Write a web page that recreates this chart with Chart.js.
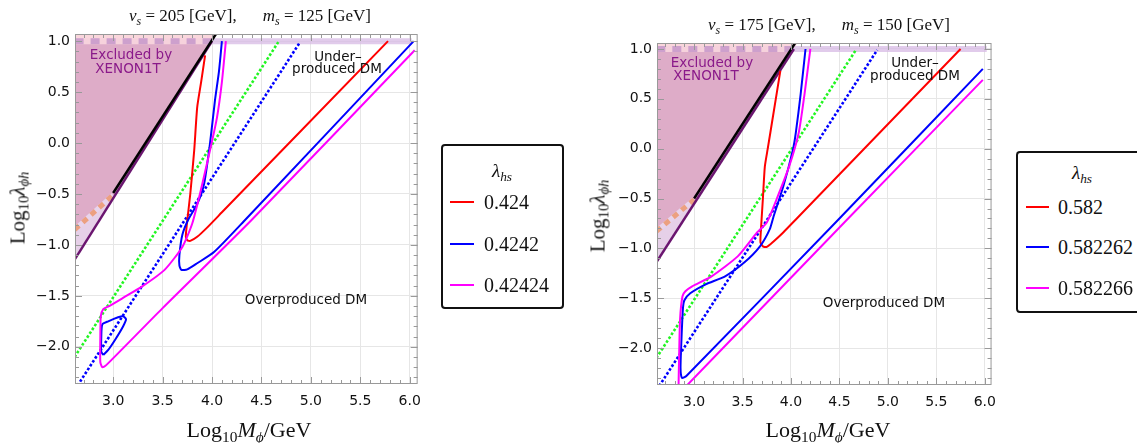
<!DOCTYPE html>
<html>
<head>
<meta charset="utf-8">
<script src="https://cdn.jsdelivr.net/npm/chart.js"></script>
<style>
  body { margin: 0; background: #fff; }
  #page { position: relative; width: 1137px; height: 443px; overflow: hidden; }
  canvas { position: absolute; top: 0; }
  .t { position: absolute; white-space: nowrap; transform: translate(-50%, -50%); }
  .serif { font-family: "Liberation Serif", "DejaVu Serif", serif; color: #111; }
  .note { font-family: "DejaVu Sans", sans-serif; font-size: 13.5px; color: #111; }
  .purple { color: #8a1a8a; }
  .ytitle { transform: translate(-50%, -50%) rotate(-90deg); }
  .legend { position: absolute; border: 2px solid #111; border-radius: 4px; box-sizing: border-box; }
  .swatch { position: absolute; height: 2px; }
  .lab { position: absolute; font-family: "Liberation Serif", serif; font-size: 20px; color: #111; transform: translateY(-50%); }
  sub { font-size: 0.7em; vertical-align: -0.3em; line-height: 0; }
</style>
</head>
<body>
<div id="page">
  <canvas id="left" width="430" height="443" style="left:0"></canvas>
  <canvas id="right" width="425" height="443" style="left:580px"></canvas>

  <div class="t serif" style="left:250px; top:16px; font-size:17px"><i>v</i><sub><i>s</i></sub> = 205 [GeV],<span style="display:inline-block;width:26px"></span><i>m</i><sub><i>s</i></sub> = 125 [GeV]</div>
  <div class="t serif" style="left:829px; top:25px; font-size:17px"><i>v</i><sub><i>s</i></sub> = 175 [GeV],<span style="display:inline-block;width:26px"></span><i>m</i><sub><i>s</i></sub> = 150 [GeV]</div>

  <div class="t serif" style="left:249px; top:430px; font-size:22px">Log<sub>10</sub><i>M</i><sub><i>ϕ</i></sub>/GeV</div>
  <div class="t serif" style="left:828px; top:430px; font-size:22px">Log<sub>10</sub><i>M</i><sub><i>ϕ</i></sub>/GeV</div>
  <div class="t serif ytitle" style="left:18px; top:208px; font-size:21px">Log<sub>10</sub><i>λ</i><sub><i>ϕh</i></sub></div>
  <div class="t serif ytitle" style="left:598px; top:216px; font-size:21px">Log<sub>10</sub><i>λ</i><sub><i>ϕh</i></sub></div>

  <div class="t note purple" style="left:131px; top:54px">Excluded by</div>
  <div class="t note purple" style="left:128px; top:68px">XENON1T</div>
  <div class="t note" style="left:338px; top:56px">Under–</div>
  <div class="t note" style="left:337px; top:68px">produced DM</div>
  <div class="t note" style="left:306px; top:299px">Overproduced DM</div>

  <div class="t note purple" style="left:712px; top:62px">Excluded by</div>
  <div class="t note purple" style="left:706px; top:75px">XENON1T</div>
  <div class="t note" style="left:915px; top:62px">Under–</div>
  <div class="t note" style="left:915px; top:75px">produced DM</div>
  <div class="t note" style="left:884px; top:302px">Overproduced DM</div>

  <div id="legL"></div>
  <div id="legR"></div>
</div>

<script>
// ---- ticks ----
const xTicks = [3.0, 3.5, 4.0, 4.5, 5.0, 5.5, 6.0];
const yTicks = [-2.0, -1.5, -1.0, -0.5, 0.0, 0.5, 1.0];

// ---- legend ----
const lambdaL = ['0.424', '0.4242', '0.42424'];
const lambdaR = ['0.582', '0.582262', '0.582266'];
const colors = ['#ff0000', '#0000ff', '#ff00ff'];

// ---- left panel: v_s = 205, m_s = 125 ----
const exclFillL = [[2.61, 1.0], [4.0, 1.0], [3.0, -0.53], [2.61, -0.85]];
const exclLowL = [[2.61, -0.85], [3.0, -0.53], [2.61, -1.145]];
const exclTopL = [[2.61, 1.0], [4.0, 1.0], [4.05, 1.08], [2.61, 1.08]];
const xenonL = [[2.61, -1.145], [4.0, 1.0]];
const blackL = [[3.0, -0.49], [4.06, 1.1]];
const orangeL = [[2.61, -0.85], [3.0, -0.51]];
const greenL = [[2.61, -2.1], [4.67, 0.99]];
const blueDotL = [[2.64, -2.38], [4.89, 0.99]];
const redL = [[3.93, 0.86], [3.89, 0.6], [3.85, 0.35], [3.82, -0.07], [3.78, -0.5], [3.745, -0.8],
  [3.735, -0.92], [3.75, -0.955], [3.78, -0.96], [3.85, -0.92], [3.95, -0.83], [4.1, -0.68], [5.78, 1.0]];
const blueL = [[4.1, 1.0], [4.07, 0.7], [4.03, 0.42], [3.98, 0.0], [3.92, -0.4], [3.85, -0.6], [3.76, -0.75],
  [3.7, -0.9], [3.67, -1.1], [3.67, -1.2], [3.69, -1.245], [3.75, -1.24], [3.85, -1.18], [4.02, -1.07],
  [4.32, -0.77], [6.04, 1.0]];
const blueLoopL = [[2.9, -2.08], [2.88, -2.05], [2.88, -1.9], [2.89, -1.78], [2.95, -1.75], [3.05, -1.71],
  [3.1, -1.7], [3.13, -1.73], [3.1, -1.8], [3.02, -1.93], [2.95, -2.03], [2.9, -2.08]];
const magL = [[4.14, 1.0], [4.1, 0.6], [4.05, 0.25], [3.98, -0.07], [3.88, -0.49], [3.8, -0.79], [3.7, -1.02],
  [3.52, -1.245], [3.29, -1.41], [3.1, -1.52], [2.96, -1.6], [2.9, -1.63], [2.875, -1.7], [2.87, -1.9],
  [2.87, -2.15], [2.89, -2.2], [2.93, -2.18], [3.5, -1.62], [4.4, -0.755], [6.05, 0.91]];

// ---- right panel: v_s = 175, m_s = 150 ----
const exclFillR = [[2.61, 1.0], [4.03, 1.0], [3.0, -0.54], [2.61, -0.83]];
const exclLowR = [[2.61, -0.83], [3.0, -0.54], [2.61, -1.14]];
const exclTopR = [[2.61, 1.0], [4.03, 1.0], [4.08, 1.08], [2.61, 1.08]];
const xenonR = [[2.61, -1.14], [4.03, 1.0]];
const blackR = [[3.0, -0.5], [4.07, 1.1]];
const orangeR = [[2.61, -0.83], [3.0, -0.51]];
const greenR = [[2.61, -2.1], [4.67, 0.99]];
const blueDotR = [[2.64, -2.38], [4.89, 0.99]];
const redR = [[3.89, 0.78], [3.81, 0.3], [3.76, 0.0], [3.73, -0.18], [3.71, -0.5], [3.69, -0.81],
  [3.685, -0.94], [3.71, -0.98], [3.75, -0.985], [3.82, -0.93], [3.92, -0.84], [4.05, -0.71], [5.75, 1.0]];
const blueR = [[4.15, 1.0], [4.1, 0.55], [4.05, 0.16], [4.02, -0.01], [3.92, -0.38], [3.82, -0.68],
  [3.78, -0.81], [3.68, -0.98], [3.52, -1.14], [3.32, -1.28], [3.12, -1.36], [2.96, -1.45], [2.9, -1.52],
  [2.885, -1.6], [2.87, -1.9], [2.86, -2.2], [2.875, -2.3], [2.92, -2.28], [4.48, -0.72], [5.98, 0.8]];
const magR = [[4.2, 1.0], [4.14, 0.55], [4.08, 0.16], [3.98, -0.18], [3.85, -0.51], [3.75, -0.74],
  [3.65, -0.84], [3.45, -1.08], [3.18, -1.28], [2.98, -1.38], [2.91, -1.43], [2.88, -1.48], [2.855, -1.71],
  [2.845, -2.1], [2.84, -2.37], [2.845, -2.42], [2.87, -2.43], [2.9, -2.4], [2.93, -2.37],
  [4.58, -0.71], [5.98, 0.69]];
const topBand = [[4.0, 1.0], [6.02, 1.0]];
const topDash = [[2.61, 1.0], [4.0, 1.0]];

function pts(arr) { return arr.map(([x, y]) => ({ x, y })); }

function line(arr, color, width, dash, tension) {
  return { data: pts(arr), borderColor: color, borderWidth: width, borderDash: dash || [],
    pointRadius: 0, fill: false, tension: tension || 0, borderCapStyle: 'butt' };
}
function area(arr, color) {
  return { data: pts(arr), backgroundColor: color, borderColor: 'transparent', borderWidth: 0,
    pointRadius: 0, fill: 'shape', tension: 0 };
}

// frame with inner major/minor ticks, Mathematica style
const framePlugin = {
  id: 'frame',
  afterDatasetsDraw(chart) {
    const { ctx, chartArea: a, scales: { x, y } } = chart;
    ctx.save();
    ctx.strokeStyle = '#999';
    ctx.lineWidth = 1;
    ctx.strokeRect(a.left + 0.5, a.top + 0.5, a.right - a.left - 1, a.bottom - a.top - 1);
    ctx.beginPath();
    for (let i = Math.ceil(x.min * 10); i <= Math.floor(x.max * 10); i++) {
      const len = i % 5 === 0 ? 7 : 4;
      const px = Math.round(x.getPixelForValue(i / 10)) + 0.5;
      ctx.moveTo(px, a.bottom); ctx.lineTo(px, a.bottom - len);
      ctx.moveTo(px, a.top); ctx.lineTo(px, a.top + len);
    }
    for (let i = Math.ceil(y.min * 10); i <= Math.floor(y.max * 10); i++) {
      const len = i % 5 === 0 ? 7 : 4;
      const py = Math.round(y.getPixelForValue(i / 10)) + 0.5;
      ctx.moveTo(a.left, py); ctx.lineTo(a.left + len, py);
      ctx.moveTo(a.right, py); ctx.lineTo(a.right - len, py);
    }
    ctx.stroke();
    ctx.restore();
  }
};

function fmt(v) { return (v < 0 ? '\u2212' : '') + Math.abs(v).toFixed(1); }

function makeChart(id, g, sets) {
  // sets listed bottom -> top; Chart.js draws index 0 on top
  new Chart(document.getElementById(id), {
    type: 'line',
    data: { datasets: sets.slice().reverse() },
    plugins: [framePlugin],
    options: {
      responsive: false,
      animation: false,
      events: [],
      layout: { padding: { left: 0, top: g.top, right: g.right, bottom: 0 } },
      plugins: { legend: { display: false }, tooltip: { enabled: false }, title: { display: false } },
      scales: {
        x: {
          type: 'linear', min: g.xMin, max: g.xMax,
          afterBuildTicks: s => { s.ticks = xTicks.map(value => ({ value })); },
          afterFit: s => { s.height = g.xH; },
          grid: { color: '#e6e6e6', drawTicks: false },
          border: { display: false },
          ticks: { callback: fmt, padding: 9, color: '#111', maxRotation: 0,
            font: { family: 'DejaVu Sans', size: 14 } }
        },
        y: {
          type: 'linear', min: g.yMin, max: g.yMax,
          afterBuildTicks: s => { s.ticks = yTicks.map(value => ({ value })); },
          afterFit: s => { s.width = g.yW; },
          grid: { color: '#e6e6e6', drawTicks: false },
          border: { display: false },
          ticks: { callback: fmt, padding: 5, color: '#111',
            font: { family: 'DejaVu Sans', size: 14 } }
        }
      }
    }
  });
}

function panelSets(p) {
  return [
    area(p.top, 'rgb(250,214,220)'),
    area(p.fill, 'rgb(222,172,200)'),
    area(p.low, 'rgb(230,208,232)'),
    line(topBand, 'rgba(215,185,228,0.75)', 6),
    line(topDash, 'rgb(246,210,220)', 6),
    line(topDash, 'rgb(205,160,205)', 6, [9, 7]),
    line(p.orange, 'rgb(232,212,236)', 5),
    line(p.orange, 'rgb(236,160,128)', 5, [6, 5]),
    line(p.xenon, '#6b1670', 2.5),
    line(p.black, '#000', 2.5),
    line(p.green, '#22f522', 2.6, [2.6, 2]),
    line(p.blueDot, '#0000ff', 2.6, [2.6, 2]),
    line(p.red, colors[0], 2, null, 0.2),
    line(p.blue, colors[1], 2, null, 0.2),
    ...(p.loop ? [line(p.loop, colors[1], 2, null, 0.2)] : []),
    line(p.mag, colors[2], 2, null, 0.2)
  ];
}

makeChart('left', { top: 34, right: 5, yW: 75, xH: 59, xMin: 2.614, xMax: 6.08, yMin: -2.365, yMax: 1.07 },
  panelSets({ top: exclTopL, fill: exclFillL, low: exclLowL, orange: orangeL, xenon: xenonL, black: blackL,
    green: greenL, blueDot: blueDotL, red: redL, blue: blueL, loop: blueLoopL, mag: magL }));

makeChart('right', { top: 43, right: 5, yW: 77, xH: 58, xMin: 2.617, xMax: 6.07, yMin: -2.37, yMax: 1.06 },
  panelSets({ top: exclTopR, fill: exclFillR, low: exclLowR, orange: orangeR, xenon: xenonR, black: blackR,
    green: greenR, blueDot: blueDotR, red: redR, blue: blueR, mag: magR }));

// ---- legends ----
function legend(elId, box, labels) {
  const el = document.getElementById(elId);
  let html = `<div class="legend" style="left:${box.x}px;top:${box.y}px;width:${box.w}px;height:${box.h}px"></div>`;
  html += `<div class="t serif" style="left:${box.tx}px;top:${box.ty}px;font-size:19px"><i>λ</i><sub><i>hs</i></sub></div>`;
  labels.forEach((lab, i) => {
    const yy = box.rows[i];
    html += `<div class="swatch" style="left:${box.sx}px;top:${yy - 1}px;width:${box.sw}px;background:${colors[i]}"></div>`;
    html += `<div class="lab" style="left:${box.lx}px;top:${yy}px">${lab}</div>`;
  });
  el.innerHTML = html;
}
legend('legL', { x: 441, y: 144, w: 123, h: 165, tx: 502, ty: 171, sx: 450, sw: 24, lx: 484, rows: [202, 244, 285] }, lambdaL);
legend('legR', { x: 1016, y: 151, w: 140, h: 162, tx: 1082, ty: 173, sx: 1026, sw: 23, lx: 1058, rows: [207, 247, 288] }, lambdaR);
</script>
</body>
</html>
